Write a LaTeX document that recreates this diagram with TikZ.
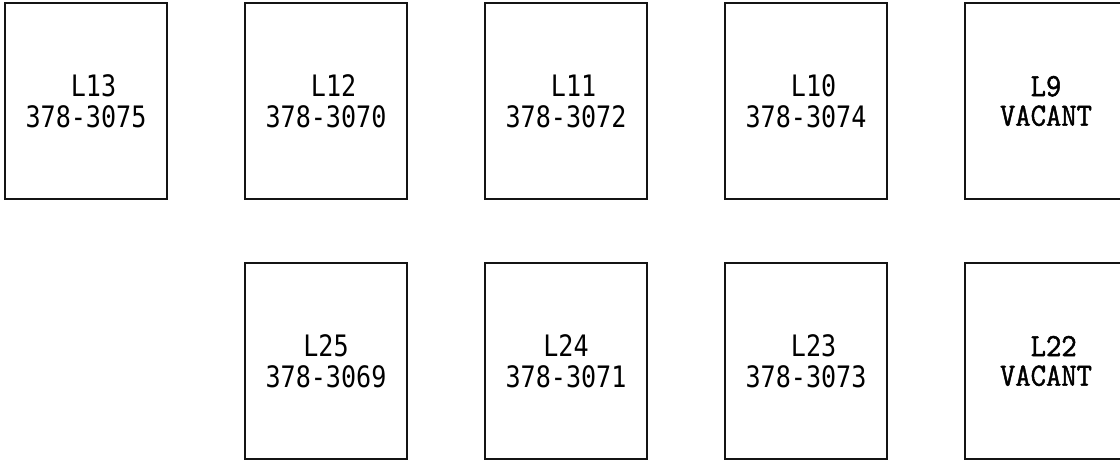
\documentclass[tikz,border=0pt]{standalone}
\usepackage{fontspec}
\usepackage{tikz}
\usetikzlibrary{positioning}
\newfontfamily\lotfont[FakeStretch=0.85]{DejaVu Sans Mono}
\newfontfamily\vacfont[FakeBold=1.5, FakeStretch=0.92]{Latin Modern Mono}
\definecolor{myink}{RGB}{20,20,20}
\tikzset{
  lot/.style={rectangle, draw=myink, minimum width=4.05cm,
    minimum height=4.9cm, inner sep=0pt, outer sep=0pt, line width=2pt,
    align=center, font=\lotfont\fontsize{21}{22}\selectfont},
  vaclot/.style={lot, font=\vacfont\fontsize{23}{21}\selectfont}
}
\newcommand{\lotpad}{\hphantom{0}}

\begin{document}
\begin{tikzpicture}[node distance=1.6cm and 1.95cm]
  \useasboundingbox (0,0) rectangle (28,-11.575);
  % upper row
  \node[lot] (l13) at (2.15,-2.525) {\lotpad L13\\378-3075};
  \node[lot, right=of l13] (l12) {\lotpad L12\\378-3070};
  \node[lot, right=of l12] (l11) {\lotpad L11\\378-3072};
  \node[lot, right=of l11] (l10) {\lotpad L10\\378-3074};
  \node[vaclot, right=of l10] (l9) {L9\\VACANT};
  % lower row
  \node[lot, below=of l12] (l25) {L25\\378-3069};
  \node[lot, right=of l25] (l24) {L24\\378-3071};
  \node[lot, right=of l24] (l23) {\lotpad L23\\378-3073};
  \node[vaclot, right=of l23] (l22) {\lotpad L22\\VACANT};
\end{tikzpicture}
\end{document}
